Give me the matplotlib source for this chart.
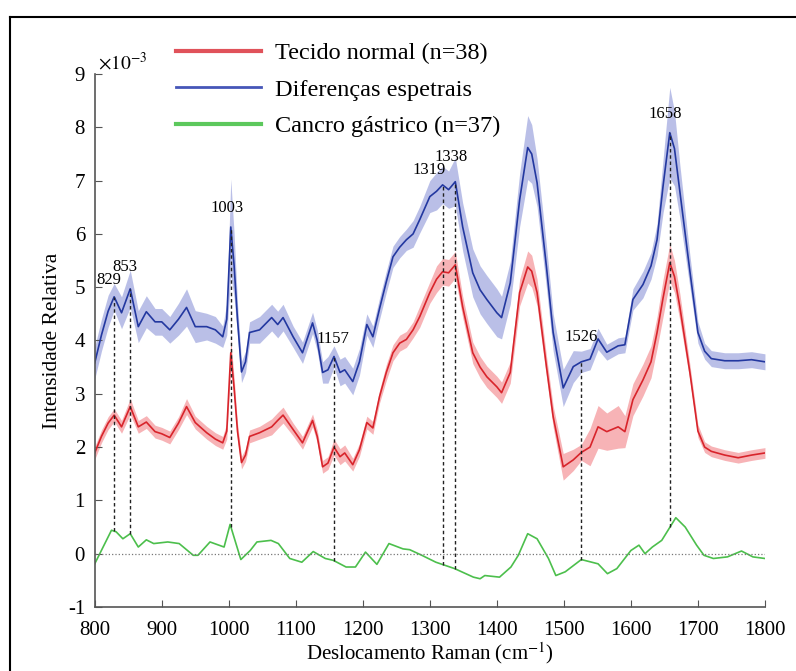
import numpy as np
import matplotlib.pyplot as plt
from matplotlib.lines import Line2D

plt.rcParams['font.family'] = ['Liberation Serif', 'DejaVu Serif']
plt.rcParams['mathtext.fontset'] = 'stix'
plt.rcParams['axes.unicode_minus'] = False

# Raman shift (cm^-1)
shift = [800, 810, 820, 829, 840, 853, 865, 877, 890, 900, 912, 925, 937, 950, 967,
         980, 991, 997, 1003, 1008, 1013, 1019, 1025, 1031, 1046, 1064, 1073, 1081,
         1096, 1110, 1125, 1132, 1140, 1148, 1157, 1166, 1173, 1185, 1195, 1206, 1215,
         1225, 1235, 1245, 1255, 1265, 1275, 1285, 1300, 1310, 1319, 1328, 1338, 1349,
         1364, 1375, 1385, 1400, 1407, 1420, 1434, 1446, 1452, 1460, 1474, 1484, 1499,
         1514, 1526, 1539, 1551, 1564, 1581, 1591, 1603, 1618, 1630, 1639, 1648, 1658,
         1665, 1673, 1688, 1700, 1710, 1720, 1740, 1760, 1780, 1800]

# mean spectra (x 10^-3)
blue_mean = [3.58, 4.1, 4.55, 4.82, 4.52, 4.97, 4.26, 4.54, 4.35, 4.35, 4.2, 4.4, 4.62, 4.26, 4.26,
             4.2, 4.07, 4.4, 6.13, 5.4, 4.4, 3.41, 3.6, 4.15, 4.2, 4.43, 4.3, 4.43,
             4.07, 3.77, 4.33, 4.0, 3.4, 3.45, 3.7, 3.4, 3.45, 3.23, 3.6, 4.3, 4.07,
             4.6, 5.1, 5.57, 5.75, 5.89, 6.0, 6.27, 6.7, 6.8, 6.92, 6.83, 6.98, 6.13,
             5.27, 4.95, 4.77, 4.52, 4.43, 5.08, 6.64, 7.62, 7.5, 6.96, 5.38, 4.15, 3.11,
             3.51, 3.6, 3.65, 4.03, 3.78, 3.9, 3.92, 4.77, 5.05, 5.4, 5.89, 6.9, 7.9,
             7.6, 6.8, 5.3, 4.15, 3.8, 3.66, 3.62, 3.62, 3.64, 3.6]
blue_sd = [0.3, 0.3, 0.3, 0.25, 0.3, 0.35, 0.3, 0.3, 0.25, 0.25, 0.25, 0.3, 0.35, 0.3, 0.25,
           0.25, 0.2, 0.3, 0.9, 0.6, 0.3, 0.2, 0.2, 0.2, 0.25, 0.25, 0.25, 0.25,
           0.2, 0.2, 0.2, 0.2, 0.2, 0.25, 0.2, 0.25, 0.25, 0.25, 0.25, 0.2, 0.2,
           0.2, 0.2, 0.2, 0.2, 0.2, 0.25, 0.25, 0.3, 0.35, 0.35, 0.35, 0.45, 0.45,
           0.45, 0.45, 0.45, 0.45, 0.4, 0.4, 0.5, 0.6, 0.55, 0.45, 0.4, 0.35, 0.35,
           0.3, 0.2, 0.2, 0.2, 0.15, 0.15, 0.15, 0.2, 0.25, 0.25, 0.3, 0.5, 0.85,
           0.7, 0.5, 0.3, 0.2, 0.15, 0.15, 0.15, 0.15, 0.15, 0.15]
red_mean = [1.89, 2.2, 2.45, 2.6, 2.38, 2.76, 2.38, 2.47, 2.29, 2.25, 2.18, 2.45, 2.76, 2.46, 2.27,
            2.15, 2.08, 2.3, 3.77, 3.1, 2.3, 1.71, 1.85, 2.2, 2.27, 2.38, 2.5, 2.6,
            2.33, 2.08, 2.5, 2.2, 1.63, 1.7, 2.0, 1.82, 1.89, 1.67, 1.95, 2.46, 2.36,
            2.95, 3.4, 3.77, 3.95, 4.02, 4.2, 4.45, 4.9, 5.15, 5.29, 5.27, 5.42, 4.63,
            3.77, 3.5, 3.32, 3.13, 3.02, 3.4, 4.9, 5.38, 5.3, 4.9, 3.51, 2.57, 1.63,
            1.76, 1.9, 2.0, 2.38, 2.29, 2.38, 2.29, 2.89, 3.26, 3.6, 4.15, 4.8, 5.46,
            5.2, 4.63, 3.4, 2.3, 2.0, 1.92, 1.85, 1.8, 1.85, 1.89]
red_sd = [0.12, 0.12, 0.12, 0.12, 0.12, 0.15, 0.12, 0.12, 0.12, 0.12, 0.12, 0.12, 0.15, 0.12, 0.12,
          0.12, 0.12, 0.15, 0.25, 0.2, 0.15, 0.12, 0.12, 0.12, 0.12, 0.15, 0.15, 0.15,
          0.12, 0.12, 0.12, 0.12, 0.12, 0.12, 0.15, 0.15, 0.15, 0.12, 0.12, 0.12, 0.12,
          0.12, 0.15, 0.15, 0.15, 0.15, 0.15, 0.2, 0.2, 0.25, 0.25, 0.25, 0.25, 0.2,
          0.2, 0.2, 0.2, 0.2, 0.2, 0.2, 0.25, 0.3, 0.3, 0.25, 0.2, 0.2, 0.25,
          0.2, 0.15, 0.35, 0.4, 0.35, 0.4, 0.3, 0.3, 0.3, 0.3, 0.3, 0.35, 0.35,
          0.3, 0.25, 0.15, 0.12, 0.1, 0.1, 0.1, 0.1, 0.1, 0.1]

# difference spectrum
diff_shift = [800, 825, 832, 842, 853, 865, 877, 888, 909, 926, 947, 954, 972, 993, 1002,
              1018, 1032, 1042, 1063, 1074, 1091, 1109, 1126, 1144, 1156, 1175, 1189, 1204,
              1221, 1239, 1260, 1270, 1288, 1309, 1337, 1365, 1375, 1382, 1404, 1421, 1432,
              1446, 1460, 1477, 1488, 1502, 1526, 1551, 1565, 1579, 1600, 1612, 1621, 1632,
              1646, 1667, 1681, 1698, 1709, 1723, 1744, 1765, 1782, 1800]
diff_val = [-0.19, 0.44, 0.41, 0.28, 0.375, 0.125, 0.26, 0.19, 0.22, 0.19, -0.03, -0.03, 0.22, 0.125, 0.55,
            -0.11, 0.06, 0.22, 0.25, 0.19, -0.09, -0.16, 0.04, -0.09, -0.125, -0.25, -0.25, 0.03,
            -0.2, 0.19, 0.09, 0.075, -0.03, -0.16, -0.28, -0.44, -0.47, -0.41, -0.44, -0.25, -0.03,
            0.375, 0.28, -0.09, -0.41, -0.34, -0.11, -0.19, -0.375, -0.28, 0.06, 0.16, 0.0, 0.125,
            0.25, 0.675, 0.5, 0.16, -0.03, -0.09, -0.06, 0.05, -0.06, -0.09]

peaks = [829, 853, 1003, 1157, 1319, 1338, 1526, 1658]

x = np.array(shift)
bm, bs = np.array(blue_mean), np.array(blue_sd)
rm, rs = np.array(red_mean), np.array(red_sd)

fig = plt.figure(figsize=(7.96, 6.71), dpi=100)
ax = fig.add_axes([0.119, 0.0954, 0.842, 0.7943])

red_c, blue_c, green_c = '#d8242b', '#2338a0', '#4cbf4c'
ax.fill_between(x, rm - rs, rm + rs, color='#f5a0a4', alpha=0.8, lw=0)
ax.fill_between(x, bm - bs, bm + bs, color='#a9b0e2', alpha=0.8, lw=0)
ax.plot(x, rm, color=red_c, lw=1.2)
ax.plot(x, bm, color=blue_c, lw=1.2)
ax.plot(diff_shift, diff_val, color=green_c, lw=1.2)
ax.axhline(0, color='#777777', lw=0.9, ls=':')

# dashed guide lines and peak labels
label_off = {829: (-4, 6), 853: (-4, 10), 1003: (-3, 8), 1157: (-1, 7),
             1319: (-10, 5), 1338: (-3, 12), 1526: (0, 12), 1658: (-3, 8)}
for p in peaks:
    lo = np.interp(p, diff_shift, diff_val)
    hi = np.interp(p, x, bm)
    ax.plot([p, p], [lo, hi], color='#222222', ls=(0, (2.5, 2)), lw=1.0)
    dx, dy = label_off[p]
    ax.annotate(str(p), (p, hi), xytext=(dx, dy), textcoords='offset points',
                ha='center', va='bottom', fontsize=12)

ax.set_xlim(800, 1800)
ax.set_ylim(-1, 9)
ax.set_xticks(range(800, 1801, 100))
ax.set_yticks(range(-1, 10))
for s in ['top', 'right']:
    ax.spines[s].set_visible(False)
for s in ['left', 'bottom']:
    ax.spines[s].set_color('#555555')
    ax.spines[s].set_linewidth(1.2)
ax.tick_params(direction='in', labelsize=15, color='#555555', length=5)
ax.tick_params(axis='y', pad=7)
ax.tick_params(axis='x', pad=10)
ax.set_xlabel('Deslocamento Raman (cm$^{-1}$)', fontsize=15, labelpad=0)
ax.set_ylabel('Intensidade Relativa', fontsize=15.5, labelpad=4)
ax.text(0.005, 1.0, r'$\times10^{-3}$', transform=ax.transAxes, fontsize=14,
        ha='left', va='bottom')

handles = [Line2D([], [], color='#e0525a', lw=3),
           Line2D([], [], color='#4656b8', lw=2),
           Line2D([], [], color='#5cc85c', lw=3)]
fig.legend(handles, ['Tecido normal (n=38)', 'Diferenças espetrais', 'Cancro gástrico (n=37)'],
           loc='upper left', bbox_to_anchor=(0.193, 0.97), frameon=False, fontsize=17.5,
           handlelength=3.5, handletextpad=0.6, labelspacing=0.6)

# outer frame
fig.add_artist(Line2D([0.0126, 0.0126], [0, 0.9747], color='black', lw=1.5))
fig.add_artist(Line2D([0.0126, 1.0], [0.9747, 0.9747], color='black', lw=1.5))

fig.savefig('out.png', dpi=100)
